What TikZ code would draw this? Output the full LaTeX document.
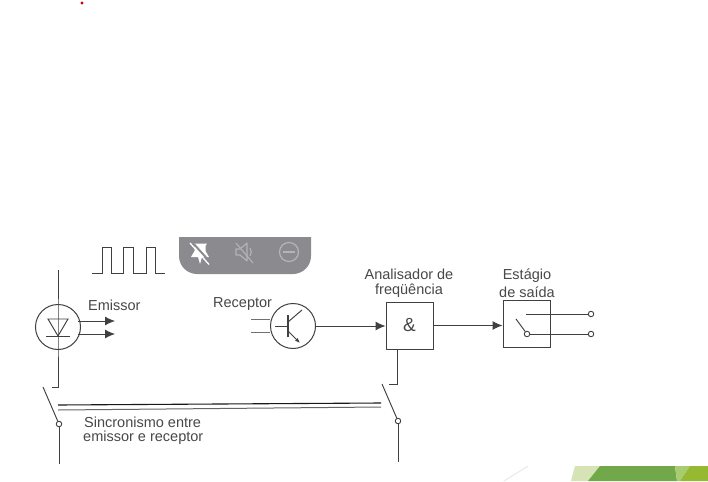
\documentclass[tikz,border=0pt]{standalone}
\usepackage{fontspec}
\setmainfont{Liberation Sans}
\usetikzlibrary{arrows.meta}
\definecolor{ink}{HTML}{404040}
\definecolor{lbl}{HTML}{484848}
\definecolor{barc}{HTML}{8B8B8F}
\definecolor{iconc}{HTML}{B4B4B6}
\tikzset{
  x=1pt,y=-1pt,
  wire/.style={draw=ink,line width=0.95pt},
  thin wire/.style={draw=ink!75,line width=0.8pt},
  flow/.style={wire,-{Latex[length=10pt,width=9pt]}},
  lab/.style={text=lbl,font=\fontsize{14.5}{16}\selectfont,inner sep=0pt,align=center},
  blockbox/.style={draw=ink,line width=0.95pt,minimum width=47pt,minimum height=47pt,inner sep=0pt,text=lbl,font=\fontsize{19}{20}\selectfont},
  disc/.style={circle,draw=ink,line width=1pt,minimum size=45pt,inner sep=0pt},
  post/.style={circle,draw=ink,fill=white,line width=0.9pt,minimum size=5.5pt,inner sep=0pt},
}
\begin{document}
\begin{tikzpicture}
\useasboundingbox (0,0) rectangle (708,481);
\fill[white] (0,0) rectangle (708,481);
\fill[red!80!black] (82,3) circle (1.7);
% green corner
\fill[fill=black!8] (527,466) -- (503,481) -- (505,481) -- (529,466) -- cycle;
\fill[fill={rgb,255:red,213;green,227;blue,181}] (575,466) -- (600,466) -- (588,481) -- (571,481) -- cycle;
\fill[fill={rgb,255:red,113;green,169;blue,74}] (600,466) -- (675,466) -- (677,481) -- (588,481) -- cycle;
\fill[fill={rgb,255:red,168;green,204;blue,112}] (675,466) -- (690,466) -- (680,481) -- (677,481) -- cycle;
\fill[fill={rgb,255:red,150;green,185;blue,50}] (690,466) -- (708,466) -- (708,481) -- (680,481) -- cycle;
% toolbar
\fill[barc] (179,237) -- (311,237) -- (311,256) arc[start angle=0,end angle=90,radius=18] -- (197,274) arc[start angle=90,end angle=180,radius=18] -- cycle;
% pin icon
\fill[white] (193,243.5) -- (207,243.5) -- (205.5,246) -- (205.5,251) -- (209,257) -- (202,257) -- (200,264) -- (198,257) -- (191,257) -- (194.5,251) -- (194.5,246) -- cycle;
\draw[barc,line width=2pt] (192,242) -- (211,263);
\draw[white,line width=1.3pt] (190,243) -- (209,264.5);
% muted speaker icon
\draw[iconc,line width=1.1pt,line join=round] (236,249) -- (240,249) -- (247,243) -- (247,261) -- (240,255) -- (236,255) -- cycle;
\draw[iconc,line width=1.1pt] (250,248) arc[start angle=-40,end angle=40,radius=6];
\draw[iconc,line width=1.1pt] (236,243) -- (253,263);
% minus icon
\draw[iconc,line width=1.2pt] (289,252) circle (9.5);
\draw[iconc,line width=1.2pt] (283,252) -- (295,252);

% pulse train
\draw[wire] (92,273.5) -- (102,273.5) -- (102,247) -- (111,247) -- (111,273.5) -- (123,273.5) -- (123,247) -- (133,247) -- (133,273.5) -- (146,273.5) -- (146,247) -- (155,247) -- (155,273.5) -- (165,273.5);

% emitter
\node[disc] (emit) at (58,327) {};
\coordinate (emitTop) at (58,270);
\coordinate (emitLow) at (58,387);
\coordinate (emitEnd) at (52,387);
\draw[wire] (emitTop) -- (emit.center) -- (emitLow) -- (emitEnd);
\draw[wire,line join=miter] (48,319) -- (68,319) -- (58,336) -- cycle;
\draw[wire] (46,336.5) -- (70,336.5);
\coordinate (rayA) at (115,321);
\coordinate (rayB) at (115,334);
\draw[flow] (78,321) -- (rayA);
\draw[flow] (78,334) -- (rayB);
\node[lab,anchor=west] (emissorL) at (88,305) {Emissor};

% receiver
\node[disc] (recv) at (293,326) {};
\node[lab,anchor=west] (receptorL) at (213,304.5) {Receptor};
\draw[thin wire] (251,319) -- (270,319);
\draw[thin wire] (251,332) -- (270,332);
\draw[wire] (275,326) -- (288,326);
\draw[wire,line width=1.5pt] (288,315) -- (288,337);
\draw[wire] (288,322) -- (302,310);
\draw[wire,-{Latex[length=5pt,width=4pt]}] (288,331) -- (300,343);

% blocks
\node[blockbox] (andb) at (409.5,325.5) {\&};
\node[blockbox] (outb) at (526.5,324) {};
\node[lab] (analL) at (409,274) {Analisador de};
\node[lab] (freqL) at (409,291) {freqüência};
\node[lab] (estL) at (527,276) {Estágio};
\node[lab] (saiL) at (527,292) {de saída};
\draw[flow] (recv.east) -- (recv.east -| andb.west);
\draw[flow] (andb.east) -- (andb.east -| outb.west);

% output switch
\node[post] (swp) at (527,334) {};
\node[post] (outA) at (591,314) {};
\node[post] (outB) at (591,334) {};
\coordinate (swBlade) at (516,319);
\coordinate (swFix) at (526,314);
\draw[wire] (swBlade) -- (swp);
\draw[wire] (swFix) -- (outA);
\draw[wire] (swp) -- (outB);

% lower switches
\node[post] (pL) at (59,424) {};
\node[post] (pR) at (398,421) {};
\coordinate (lBlade) at (43,387);
\coordinate (rBlade) at (382,384);
\coordinate (lEnd) at (59,464);
\coordinate (rEnd) at (398,462);
\coordinate (andDrop) at (397,384);
\coordinate (andStub) at (389,384);
\draw[wire] (lBlade) -- (pL);
\draw[wire] (rBlade) -- (pR);
\draw[wire] (pL) -- (lEnd);
\draw[wire] (pR) -- (rEnd);
\draw[wire] (andb.south -| andDrop) -- (andDrop) -- (andStub);

% synchronism
\coordinate (sA) at (58,405);
\coordinate (sB) at (381,403);
\coordinate (sC) at (58,410);
\coordinate (sD) at (381,407);
\draw[draw=black!90,line width=1.1pt] (sA) -- (sB);
\draw[draw=ink!80,line width=1pt] (sC) -- (sD);
\node[lab,anchor=west] (sync1) at (84,422) {Sincronismo entre};
\node[lab,anchor=west] (sync2) at (83,438) {emissor e receptor};
\end{tikzpicture}
\end{document}
